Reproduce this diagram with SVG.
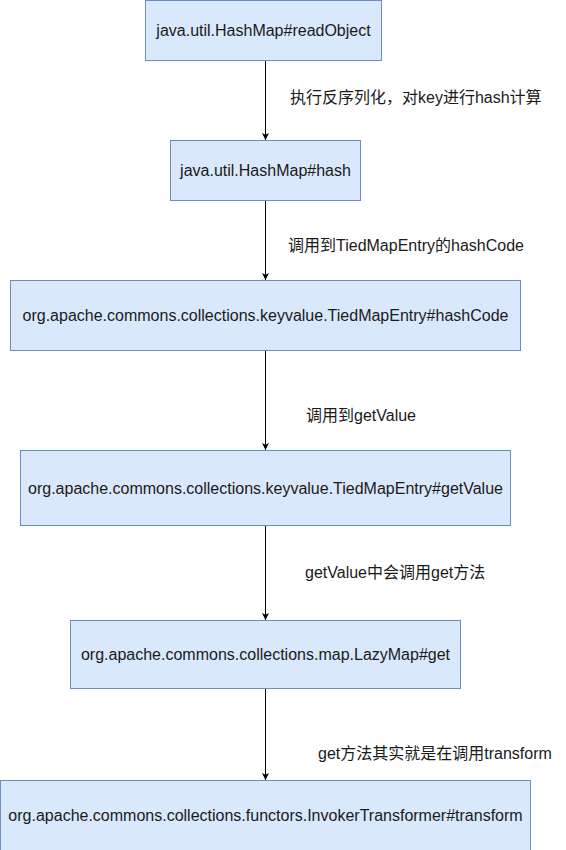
<svg xmlns="http://www.w3.org/2000/svg" width="566" height="850" viewBox="0 0 566 850">
<style>
.box{fill:#dae8fc;stroke:#6c8ebf;stroke-width:1}
.t{font-family:"Liberation Sans",Arial,sans-serif;font-size:16px;fill:#1a1a1a;text-anchor:middle;dominant-baseline:central}
.l{font-family:"Liberation Sans","Noto Sans CJK SC",sans-serif;font-size:16px;fill:#1a1a1a;dominant-baseline:central}
.c{stroke:#000;stroke-width:1;fill:none;marker-end:url(#ah)}
</style>
<defs>
<marker id="ah" markerWidth="8" markerHeight="8" viewBox="0 0 8 8" refX="7" refY="4" orient="auto" markerUnits="userSpaceOnUse">
<path d="M0,0.5 L7,4 L0,7.5 L1.8,4 Z" fill="#000"/>
</marker>
</defs>
<g id="connectors">
<path class="c" d="M265.5,60.5 V140"/>
<path class="c" d="M265.5,200.5 V280"/>
<path class="c" d="M265.5,350.5 V450"/>
<path class="c" d="M265.5,525.5 V620"/>
<path class="c" d="M265.5,688.5 V780"/>
<text class="l" x="290" y="97">执行反序列化，对key进行hash计算</text>
<text class="l" x="288" y="245">调用到TiedMapEntry的hashCode</text>
<text class="l" x="306" y="415">调用到getValue</text>
<text class="l" x="305" y="572">getValue中会调用get方法</text>
<text class="l" x="318" y="753">get方法其实就是在调用transform</text>
</g>
<g id="n1"><rect class="box" x="145.5" y="0.5" width="236" height="60"/><text class="t" x="263.5" y="30.5">java.util.HashMap#readObject</text></g>
<g id="n2"><rect class="box" x="170.5" y="140.5" width="190" height="60"/><text class="t" x="265.5" y="170.5">java.util.HashMap#hash</text></g>
<g id="n3"><rect class="box" x="10.5" y="280.5" width="510" height="70"/><text class="t" x="265.5" y="315.5">org.apache.commons.collections.keyvalue.TiedMapEntry#hashCode</text></g>
<g id="n4"><rect class="box" x="20.5" y="450.5" width="490" height="75"/><text class="t" x="265.5" y="488">org.apache.commons.collections.keyvalue.TiedMapEntry#getValue</text></g>
<g id="n5"><rect class="box" x="70.5" y="620.5" width="390" height="68"/><text class="t" x="265.5" y="654.5">org.apache.commons.collections.map.LazyMap#get</text></g>
<g id="n6"><rect class="box" x="0.5" y="780.5" width="530" height="70"/><text class="t" x="265.5" y="815.5">org.apache.commons.collections.functors.InvokerTransformer#transform</text></g>
</svg>
